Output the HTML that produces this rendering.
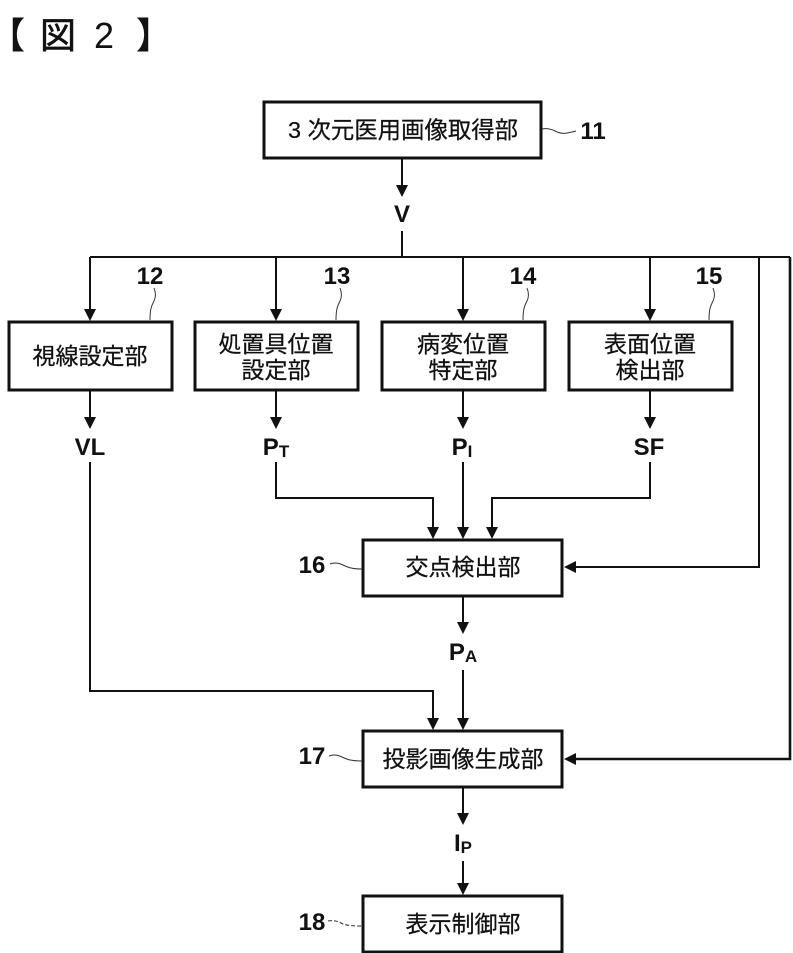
<!DOCTYPE html>
<html><head><meta charset="utf-8"><style>
html,body{margin:0;padding:0;background:#fff;width:793px;height:953px;overflow:hidden}
svg{display:block}
text{font-family:"Liberation Sans","Noto Sans CJK JP",sans-serif;fill:#111}
.j{font-size:23px;text-anchor:middle;stroke:#111;stroke-width:.25}
.b{font-size:24px;font-weight:bold;text-anchor:middle}
rect{fill:#fff;stroke:#111;stroke-width:3}
.l{fill:none;stroke:#111;stroke-width:2}
.w{fill:none;stroke:#333;stroke-width:1}
.a{fill:#111;stroke:none}
</style></head><body>
<svg width="793" height="953" viewBox="0 0 793 953" xmlns="http://www.w3.org/2000/svg">
<text x="-11" y="48" style="font-size:36px;font-weight:bold">【</text>
<text x="40" y="48" style="font-size:36px;stroke:#111;stroke-width:.6">図</text>
<text x="94" y="48" style="font-size:36px">2</text>
<text x="136" y="48" style="font-size:36px;font-weight:bold">】</text>
<rect x="264" y="102" width="277" height="56"/>
<text class="j" x="403" y="138" style="font-size:23.4px">3 次元医用画像取得部</text>
<path class="w" d="M542 129c5-1 9 0 13 2s8 3 12 2 6-1 9-2"/>
<text class="b" x="593" y="139">11</text>
<path class="l" d="M402 158V188M402 231V256M90 257H790M90 257V312M276 257V312M463 257V312M650 257V312M759 257V567H572"/>
<path class="l" style="stroke-width:2.6" d="M790 257V759H572"/>
<path class="l" d="M90 390V420M276 390V420M463 390V420M650 390V420"/>
<path class="l" d="M90 462V691H433V722M276 462V498H433V530M463 462V530M650 462V498H492V530"/>
<path class="l" d="M463 596V624M463 670V722M463 787V816M463 861V888"/>
<rect x="9" y="322" width="163" height="68"/>
<rect x="195" y="322" width="163" height="68"/>
<rect x="382" y="322" width="163" height="68"/>
<rect x="569" y="322" width="163" height="68"/>
<text class="j" x="90" y="364">視線設定部</text>
<text class="j" x="276" y="352">処置具位置</text><text class="j" x="276" y="378">設定部</text>
<text class="j" x="463" y="352">病変位置</text><text class="j" x="463" y="378">特定部</text>
<text class="j" x="650" y="352">表面位置</text><text class="j" x="650" y="378">検出部</text>
<text class="b" x="150" y="284">12</text><text class="b" x="337" y="284">13</text><text class="b" x="523" y="284">14</text><text class="b" x="709" y="284">15</text>
<path class="w" d="M154 288c2 5 2 9 0 13s-4 7-4 19M340 288c2 5 2 9 0 13s-4 7-4 19M527 288c2 5 2 9 0 13s-4 7-4 19M713 288c2 5 2 9 0 13s-4 7-4 19"/>
<text class="b" x="402" y="222">V</text>
<text class="b" x="90" y="455">VL</text>
<text class="b" x="276" y="455">P<tspan font-size="17" dy="2">T</tspan></text>
<text class="b" x="462" y="455">P<tspan font-size="17" dy="2">I</tspan></text>
<text class="b" x="649" y="455">SF</text>
<rect x="363" y="540" width="199" height="56"/>
<text class="j" x="463" y="575">交点検出部</text>
<text class="b" x="312" y="573">16</text>
<path class="w" d="M330 564c5-2 9-1 13 1s8 4 19 4"/>
<text class="b" x="463" y="660">P<tspan font-size="17" dy="2">A</tspan></text>
<rect x="363" y="731" width="199" height="56"/>
<text class="j" x="463" y="767">投影画像生成部</text>
<text class="b" x="312" y="764">17</text>
<path class="w" d="M329 756c5-2 9-1 13 1s8 4 20 4"/>
<text class="b" x="463" y="851">I<tspan font-size="17" dy="2">P</tspan></text>
<rect x="363" y="896" width="199" height="56"/>
<text class="j" x="463" y="932">表示制御部</text>
<text class="b" x="312" y="930">18</text>
<path class="w" d="M328 921c5-1 9 0 13 2s8 3 21 3" stroke-dasharray="4 2"/>
<path class="a" d="M396 185h12l-6 12zM84 309h12l-6 12zM270 309h12l-6 12zM457 309h12l-6 12zM644 309h12l-6 12zM84 417h12l-6 12zM270 417h12l-6 12zM457 417h12l-6 12zM644 417h12l-6 12zM427 527h12l-6 12zM457 527h12l-6 12zM486 527h12l-6 12zM427 718h12l-6 12zM457 718h12l-6 12zM457 622h12l-6 12zM457 813h12l-6 12zM457 883h12l-6 12zM564 567l12-6v12zM564 759l12-6v12z"/>
</svg>
</body></html>
